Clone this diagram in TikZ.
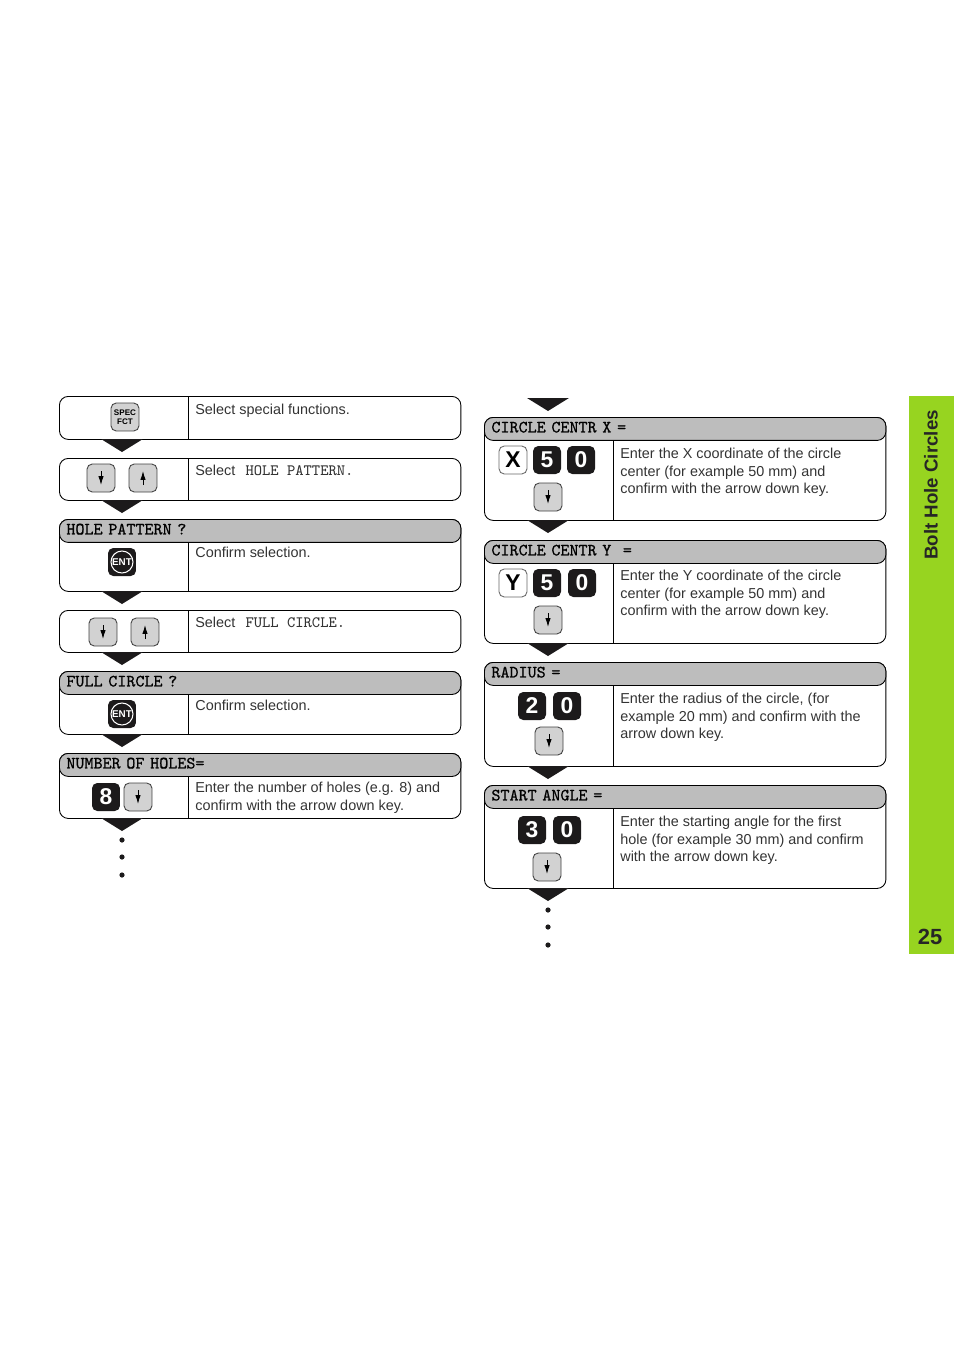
\documentclass[tikz,border=0pt]{standalone}
\usepackage{fontspec}
\setmainfont{Liberation Sans}
\newfontfamily\barfont[FakeBold=0.8]{Latin Modern Mono}
\definecolor{tabgreen}{HTML}{97D420}
\definecolor{bargray}{HTML}{BDBDBD}
\definecolor{keygray}{HTML}{D2D2D2}
\definecolor{keyblack}{HTML}{1C1A1B}
\tikzset{
  panelbox/.style={draw, line width=0.5pt, rounded corners=5pt, anchor=north west, minimum width=8.03cm, inner sep=0pt},
  titlebar/.style={draw, line width=0.5pt, fill=bargray, rounded corners=5pt, anchor=north west, minimum width=8.03cm, minimum height=0.46cm, inner sep=0pt, text width=7.75cm, text height=6pt, text depth=2pt, align=left, font=\fontsize{9.8}{10}\selectfont\barfont},
  note/.style={anchor=north west, inner sep=0pt, align=left, text=black!80, font=\fontsize{8.2}{10}\selectfont},
  keybase/.style={rounded corners=3pt, minimum width=0.56cm, minimum height=0.56cm, inner sep=0pt},
  greykey/.style={keybase, draw=black!75, line width=0.5pt, fill=keygray},
  darkkey/.style={keybase, fill=keyblack, text=white, font=\fontsize{13}{14}\selectfont\bfseries},
  whitekey/.style={keybase, draw=black!60, line width=0.5pt, fill=white, font=\fontsize{13}{14}\selectfont\bfseries},
  entkey/.style={keybase, fill=keyblack, text=white, font=\fontsize{5.6}{6}\selectfont\bfseries},
  keyarrow/.style={line width=0.5pt, -{Latex[length=5pt,width=3pt]}},
}
\usetikzlibrary{arrows.meta}
\newcommand{\shown}[1]{\hspace{0.43em}{\fontsize{9}{10}\selectfont\ttfamily #1}}
\begin{document}
\begin{tikzpicture}[x=0.02cm, y=-0.02cm]
  \useasboundingbox (0,0) rectangle (954,1351);

  % side tab
  \fill[tabgreen] (909,396) rectangle (954,954);
  \node[rotate=90, font=\fontsize{10.65}{13}\selectfont\bfseries, text=black!85] (tabtitle) at (931,485) {Bolt Hole Circles};
  \node[font=\fontsize{12.5}{14}\selectfont\bfseries, text=black!85] (pagenum) at (930,937) {25};

  % panels: name/left/top/bottom
  \foreach \pname/\px/\ptop/\pbot in {a/59/396/439, b/59/458/500, c/59/519/591, d/59/610/652, e/59/671/734, f/59/753/818,
                                      g/484/417/520, h/484/540/643, i/484/662/766, j/484/785/888} {
    \pgfmathsetmacro{\phgt}{(\pbot-\ptop)*0.02}
    \pgfmathsetmacro{\pdiv}{\px+129}
    \node[panelbox, minimum height=\phgt cm] (\pname) at (\px,\ptop) {};
    \draw[line width=0.5pt] (\pdiv,\ptop) -- (\pdiv,\pbot);
  }

  % black pointers under the panels
  \foreach \tx/\ty in {122/439, 122/500, 122/591, 122/652, 122/734, 122/818,
                       548/398, 548/520, 548/643, 548/766, 548/888} {
    \fill[keyblack] (\tx-21,\ty) -- (\tx+21,\ty) -- (\tx,\ty+13) -- cycle;
  }

  % dots
  \foreach \dx/\dy in {122/840, 122/857, 122/875, 548/910, 548/927, 548/945} {
    \fill[keyblack] (\dx,\dy) circle (2.6);
  }

  % display lines
  \node[titlebar] (cbar) at (59,519) {HOLE PATTERN ?};
  \node[titlebar] (ebar) at (59,671) {FULL CIRCLE ?};
  \node[titlebar] (fbar) at (59,753) {NUMBER OF HOLES=};
  \node[titlebar] (gbar) at (484,417) {CIRCLE CENTR X =};
  \node[titlebar] (hbar) at (484,540) {CIRCLE CENTR Y~~=};
  \node[titlebar] (ibar) at (484,662) {RADIUS =};
  \node[titlebar] (jbar) at (484,785) {START ANGLE =};

  % texts
  \node[note] (atxt) at (195,404) {Select special functions.};
  \node[note] (btxt) at (195,465) {Select \shown{HOLE PATTERN.}};
  \node[note] (ctxt) at (195,547) {Confirm selection.};
  \node[note] (dtxt) at (195,617) {Select \shown{FULL CIRCLE.}};
  \node[note] (etxt) at (195,700) {Confirm selection.};
  \node[note] (ftxt) at (195,782) {Enter the number of holes (e.g. 8) and\\confirm with the arrow down key.};
  \node[note] (gtxt) at (620,448) {Enter the X coordinate of the circle\\center (for example 50 mm) and\\confirm with the arrow down key.};
  \node[note] (htxt) at (620,570) {Enter the Y coordinate of the circle\\center (for example 50 mm) and\\confirm with the arrow down key.};
  \node[note] (itxt) at (620,693) {Enter the radius of the circle, (for\\example 20 mm) and confirm with the\\arrow down key.};
  \node[note] (jtxt) at (620,816) {Enter the starting angle for the first\\hole (for example 30 mm) and confirm\\with the arrow down key.};

  % keys
  \node[greykey, align=center, font=\fontsize{4.6}{5.2}\selectfont\bfseries] (spec) at (125,417) {SPEC\\FCT};
  \foreach \kname/\kx/\ky in {entone/122/562, enttwo/122/714} {
    \node[entkey] (\kname) at (\kx,\ky) {ENT};
    \draw[white, line width=0.6pt] (\kname.center) circle (11);
  }
  \node[darkkey] (eight) at (106,797) {8};
  \node[whitekey] (xkey) at (513,460) {X};
  \node[darkkey] (xfive) at (547,460) {5};
  \node[darkkey] (xzero) at (581,460) {0};
  \node[whitekey] (ykey) at (513,583) {Y};
  \node[darkkey] (yfive) at (547,583) {5};
  \node[darkkey] (yzero) at (582,583) {0};
  \node[darkkey] (rtwo) at (532,706) {2};
  \node[darkkey] (rzero) at (567,706) {0};
  \node[darkkey] (athree) at (532,830) {3};
  \node[darkkey] (azero) at (567,830) {0};

  \foreach \kname/\kx/\ky in {dnone/101/478, dntwo/103/632, dnthree/138/797, dnfour/548/497, dnfive/548/620, dnsix/549/741, dnseven/547/867} {
    \node[greykey] (\kname) at (\kx,\ky) {};
    \draw[keyarrow] (\kx,\ky-7) -- (\kx,\ky+7);
  }
  \foreach \kname/\kx/\ky in {upone/143/478, uptwo/145/632} {
    \node[greykey] (\kname) at (\kx,\ky) {};
    \draw[keyarrow] (\kx,\ky+7) -- (\kx,\ky-7);
  }
\end{tikzpicture}
\end{document}
